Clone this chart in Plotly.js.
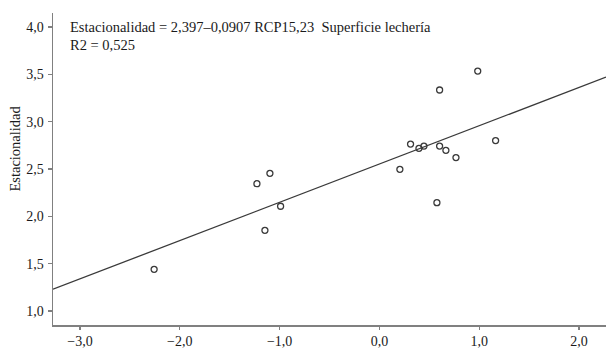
<!DOCTYPE html>
<html>
<head>
<meta charset="utf-8">
<script src="https://cdn.plot.ly/plotly-3.0.1.min.js"></script>
<style>
html,body{margin:0;padding:0;background:#fff;}
#chart{width:606px;height:350px;}
</style>
</head>
<body>
<div id="chart"></div>
<script>
// Data
const xVals = [-2.257, -1.227, -1.097, -0.99, -1.147, 0.205, 0.312, 0.396, 0.446, 0.576, 0.603, 0.603, 0.666, 0.767, 0.985, 1.164];
const yVals = [1.44, 2.344, 2.454, 2.106, 1.852, 2.496, 2.763, 2.718, 2.742, 2.144, 3.334, 2.742, 2.697, 2.62, 3.534, 2.80];
const fitX = [-3.27, 2.27];
const fitY = [1.23, 3.47];
const xTicks = [-3, -2, -1, 0, 1, 2];
const yTicks = [1.0, 1.5, 2.0, 2.5, 3.0, 3.5, 4.0];
const eqText = "Estacionalidad = 2,397–0,0907 RCP15,23  Superficie lechería";
const r2Text = "R2 = 0,525";
const yTitle = "Estacionalidad";

const serif = "Liberation Serif, Times New Roman, serif";

const traces = [
  {
    x: fitX, y: fitY, type: 'scatter', mode: 'lines',
    line: {color: '#3a3a3a', width: 1.3},
    hoverinfo: 'skip', showlegend: false
  },
  {
    x: xVals, y: yVals, type: 'scatter', mode: 'markers',
    marker: {symbol: 'circle-open', size: 6, color: '#3a3a3a', line: {width: 1.3, color: '#3a3a3a'}},
    showlegend: false
  }
];

const layout = {
  width: 606, height: 350,
  margin: {l: 53, r: 0, t: 13, b: 25, pad: 0},
  paper_bgcolor: '#ffffff', plot_bgcolor: '#ffffff',
  separators: ',.',
  font: {family: serif, size: 14, color: '#1a1a1a'},
  showlegend: false,
  xaxis: {
    range: [-3.27, 2.27], tickvals: xTicks, tickformat: '.1f',
    showgrid: false, zeroline: false,
    showline: true, linecolor: '#808080', linewidth: 1.5,
    ticks: 'outside', ticklen: 3, tickwidth: 1.2, tickcolor: '#808080',
    ticklabelstandoff: 0,
    tickfont: {family: serif, size: 14, color: '#1a1a1a'}
  },
  yaxis: {
    range: [0.852, 4.147], tickvals: yTicks, tickformat: '.1f',
    showgrid: false, zeroline: false,
    showline: true, linecolor: '#808080', linewidth: 1.5,
    ticks: 'outside', ticklen: 4, tickwidth: 1.2, tickcolor: '#808080',
    ticklabelstandoff: 1,
    tickfont: {family: serif, size: 14, color: '#1a1a1a'}
  },
  annotations: [
    {xref: 'paper', yref: 'paper', x: 0.028, y: 0.955, xanchor: 'left', yanchor: 'middle',
     text: eqText, showarrow: false, font: {family: serif, size: 14.5, color: '#1a1a1a'}},
    {xref: 'paper', yref: 'paper', x: 0.028, y: 0.897, xanchor: 'left', yanchor: 'middle',
     text: r2Text, showarrow: false, font: {family: serif, size: 14.5, color: '#1a1a1a'}},
    {xref: 'paper', yref: 'paper', x: -0.069, y: 0.565, xanchor: 'center', yanchor: 'middle',
     text: yTitle, textangle: -90, showarrow: false, font: {family: serif, size: 14.5, color: '#1a1a1a'}}
  ]
};

Plotly.newPlot('chart', traces, layout, {displayModeBar: false, staticPlot: true});
</script>
</body>
</html>
